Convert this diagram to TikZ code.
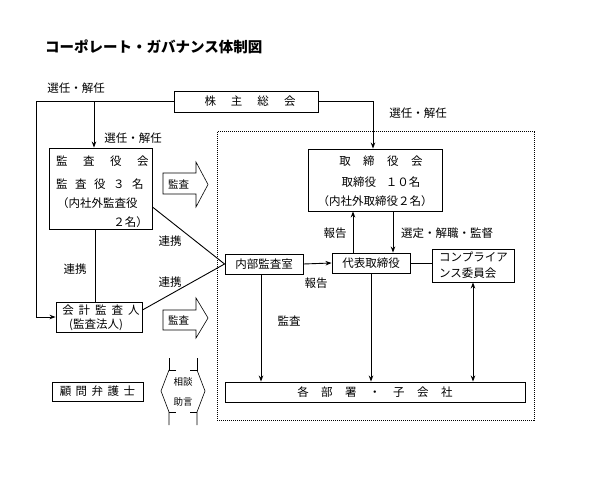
\documentclass[tikz,border=0pt]{standalone}
\usepackage{fontspec}
\setmainfont{Noto Sans CJK JP}
\usetikzlibrary{arrows.meta}
\newcommand\gp[1]{\hspace{#1pt}}
\begin{document}
\begin{tikzpicture}[x=1pt,y=-1pt,
  box/.style={draw, line width=0.9pt, fill=white, inner sep=0pt},
  txt/.style={inner sep=0pt, font=\fontsize{11.5}{13}\selectfont},
  lbl/.style={inner sep=0pt, font=\fontsize{11.5}{13}\selectfont},
  small/.style={inner sep=0pt, font=\fontsize{9.5}{10}\selectfont},
  conn/.style={line width=0.9pt},
  arr/.style={line width=0.9pt, -{Stealth[length=6pt,width=4.5pt]}},
  darr/.style={line width=0.9pt, {Stealth[length=6pt,width=4.5pt]}-{Stealth[length=6pt,width=4.5pt]}},
  blk/.style={draw, line width=0.6pt, fill=white}]
\useasboundingbox[fill=white] (0,0) rectangle (600,492);

% title
\node[inner sep=0pt, anchor=west, font=\fontsize{14.5}{16}\selectfont\bfseries] (title) at (45,47) {コーポレート・ガバナンス体制図};

% dotted frame
\draw[line width=1pt, dash pattern=on 1pt off 1pt] (217,132) rectangle (534,420);

% boxes
\node[box, minimum width=144pt, minimum height=21pt] (kabu) at (246,101.5) {};
\node[txt] (kabuT) at (250,101.5) {株\gp{15}主\gp{15}総\gp{15}会};

\node[box, minimum width=103pt, minimum height=81pt] (kansa) at (100.5,188.5) {};
\node[txt, anchor=west] (kansa1) at (56,161) {監\gp{15.5}査\gp{15.5}役\gp{15.5}会};
\node[txt, anchor=west] (kansa2) at (56,184) {監\gp{7.5}査\gp{7.5}役\gp{7.5}３\gp{7.5}名};
\node[txt, anchor=west] (kansa3) at (57,203) {（内社外監査役};
\node[txt, anchor=east] (kansa4) at (148,222) {２名）};

\node[box, minimum width=134pt, minimum height=62pt] (tori) at (375,180) {};
\node[txt] (tori1) at (381,161) {取\gp{12.5}締\gp{12.5}役\gp{12.5}会};
\node[txt] (tori2) at (381,182) {取締役\gp{10}１０名};
\node[txt] (tori3) at (375,201) {（内社外取締役２名）};

\node[box, minimum width=78pt, minimum height=20pt, txt] (daihyo) at (371,263) {代表取締役};

\node[box, minimum width=82pt, minimum height=33pt] (comp) at (473,265.5) {};
\node[txt, anchor=west] (comp1) at (439,257) {コンプライア};
\node[txt, anchor=west] (comp2) at (439,273.5) {ンス委員会};

\node[box, minimum width=78pt, minimum height=20pt, txt] (naibu) at (264,264) {内部監査室};

\node[box, minimum width=300pt, minimum height=20pt, txt] (kakubu) at (375,392) {各\gp{12.5}部\gp{12.5}署\gp{12.5}・\gp{12.5}子\gp{12.5}会\gp{12.5}社};

\node[box, minimum width=86pt, minimum height=30pt] (kaikei) at (99,317) {};
\node[txt] (kaikei1) at (101,310) {会\gp{5}計\gp{5}監\gp{5}査\gp{5}人};
\node[txt] (kaikei2) at (96,324.5) {(監査法人)};

\node[box, minimum width=91pt, minimum height=19pt, txt] (komon) at (97.5,391.5) {顧\gp{4.5}問\gp{4.5}弁\gp{4.5}護\gp{4.5}士};

% connectors
\coordinate (tl) at (36,101.5);
\coordinate (j1) at (94,101.5);
\draw[arr] (kabu.west) -- (tl) |- (kaikei.west);
\draw[arr] (j1) -- (j1 |- kansa.north);
\draw[arr] (kabu.east) -| ([xshift=-2pt]tori.north);
\draw[arr] ([xshift=-18pt]daihyo.north) -- ([xshift=-18pt]daihyo.north |- tori.south);
\draw[arr] ([xshift=22pt]daihyo.north |- tori.south) -- ([xshift=22pt]daihyo.north);
\draw[arr] (naibu.east) -- (daihyo.west);
\draw[conn] (daihyo.east) -- (daihyo.east -| comp.west);
\draw[arr] ([xshift=-3pt]naibu.south) -- ([xshift=-3pt]naibu.south |- kakubu.north);
\draw[arr] (daihyo.south) -- (daihyo.south |- kakubu.north);
\draw[darr] (comp.south) -- (comp.south |- kakubu.north);
\draw[conn] ([xshift=-5.5pt]kansa.south) -- ([xshift=-5.5pt]kansa.south |- kaikei.north);
\draw[conn] ([yshift=-18.5pt]kansa.east) -- (naibu.west);
\draw[conn] ([yshift=7pt]kaikei.east) -- (naibu.west);

% labels
\node[lbl] (l1) at (76,88) {選任・解任};
\node[lbl] (l2) at (133,138) {選任・解任};
\node[lbl] (l3) at (418,113) {選任・解任};
\node[lbl] (l4) at (335,233) {報告};
\node[lbl] (l5) at (447,233) {選定・解職・監督};
\node[lbl] (l6) at (316,283) {報告};
\node[lbl] (l7) at (289,321) {監査};
\node[lbl] (l8) at (75,269) {連携};
\node[lbl] (l9) at (170,241) {連携};
\node[lbl] (l10) at (170,282) {連携};

% block arrows
\draw[blk] (163,173) -- (196,173) -- (196,162) -- (208,184.5) -- (196,207) -- (196,194) -- (163,194) -- cycle;
\node[small, font=\fontsize{10.5}{11}\selectfont] (b1) at (178.5,184) {監査};
\draw[blk] (163,310) -- (196,310) -- (196,298) -- (208,318) -- (196,338) -- (196,330) -- (163,330) -- cycle;
\node[small, font=\fontsize{10.5}{11}\selectfont] (b2) at (178.5,320) {監査};

% consultation double arrow
\draw[line width=0.6pt] (176,370) -- (169,370) -- (169,358);
\draw[line width=0.6pt] (169,370) -- (161,391) -- (169,412) -- (169,425);
\draw[line width=0.6pt] (169,412) -- (176,412);
\draw[line width=0.6pt] (190,370) -- (197,370) -- (197,358);
\draw[line width=0.6pt] (197,370) -- (205,391) -- (197,412) -- (197,425);
\draw[line width=0.6pt] (197,412) -- (190,412);
\node[small] (s1) at (183,382) {相談};
\node[small] (s2) at (183,402) {助言};
\end{tikzpicture}
\end{document}
